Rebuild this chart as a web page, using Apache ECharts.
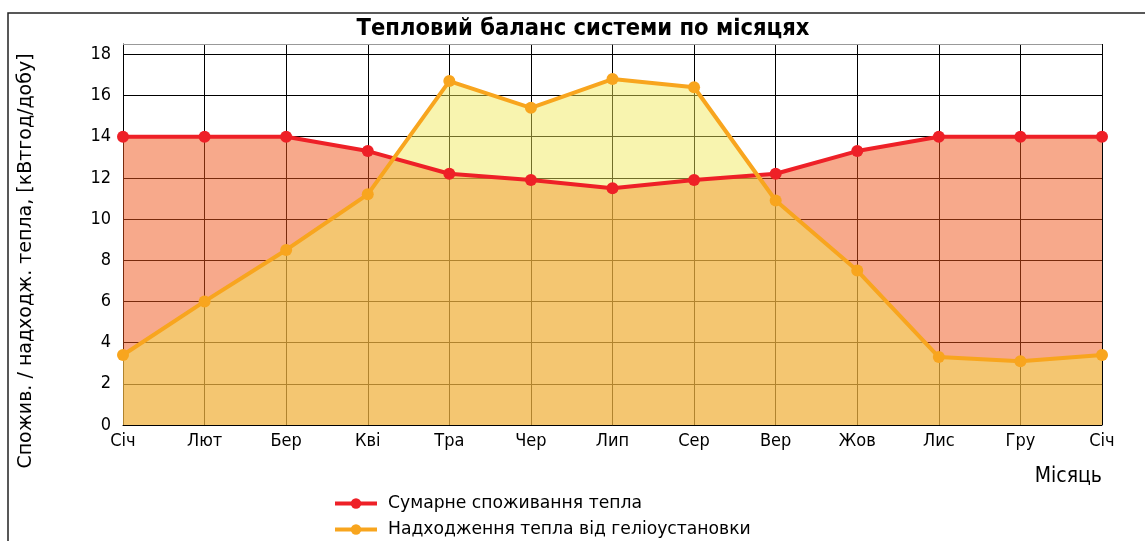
<!DOCTYPE html>
<html>
<head>
<meta charset="utf-8">
<script src="https://cdn.jsdelivr.net/npm/echarts@6/dist/echarts.min.js"></script>
<style>
html,body{margin:0;padding:0;background:#fff;}
#chart{width:1145px;height:541px;}
</style>
</head>
<body>
<div id="chart"></div>
<script>
const months = ['Січ','Лют','Бер','Кві','Тра','Чер','Лип','Сер','Вер','Жов','Лис','Гру','Січ'];
const consumption = [14, 14, 14, 13.3, 12.2, 11.9, 11.5, 11.9, 12.2, 13.3, 14, 14, 14];
const supply = [3.4, 6.0, 8.5, 11.2, 16.7, 15.4, 16.8, 16.4, 10.9, 7.5, 3.3, 3.1, 3.4];
const yTicks = [0, 2, 4, 6, 8, 10, 12, 14, 16, 18];

const titleText = 'Тепловий баланс системи по місяцях';
const yName = 'Спожив. / надходж. тепла, [кВтгод/добу]';
const xName = 'Місяць';
const consName = 'Сумарне споживання тепла';
const supName = 'Надходження тепла від геліоустановки';

const FONT = 'DejaVu Sans';
const CFONT = '"DejaVu Sans Condensed", "DejaVu Sans"';
const chart = echarts.init(document.getElementById('chart'), null, {renderer: 'canvas'});

chart.setOption({
  animation: false,
  backgroundColor: '#fff',
  textStyle: {fontFamily: FONT},
  grid: {left: 123, right: 43, top: 44, bottom: 116, containLabel: false},
  xAxis: {
    type: 'category',
    data: months,
    boundaryGap: false,
    axisLine: {show: true, lineStyle: {color: '#000', width: 1}},
    axisTick: {show: false},
    axisLabel: {color: '#000', fontSize: 18, fontFamily: CFONT, margin: 7, interval: 0},
    splitLine: {show: true, lineStyle: {color: '#000', width: 1}}
  },
  yAxis: {
    type: 'value',
    min: 0,
    max: 18.5,
    interval: 2,
    axisLine: {show: true, lineStyle: {color: '#000', width: 1}},
    axisTick: {show: false},
    axisLabel: {
      color: '#000', fontSize: 18, fontFamily: CFONT, margin: 12,
      formatter: v => (yTicks.indexOf(v) >= 0 ? String(v) : '')
    },
    splitLine: {show: true, lineStyle: {color: '#000', width: 1}}
  },
  legend: {
    orient: 'vertical',
    left: 333,
    top: 495,
    padding: 0,
    itemWidth: 42,
    itemHeight: 13,
    itemGap: 9,
    data: [consName, supName],
    lineStyle: {width: 4},
    textStyle: {color: '#000', fontSize: 17.2, fontFamily: FONT, padding: [0, 0, 0, 6]}
  },
  series: [
    {
      name: 'consArea', type: 'line', data: consumption, z: 1,
      symbol: 'none', lineStyle: {width: 0},
      areaStyle: {color: 'rgb(239,83,23)', opacity: 0.5},
      silent: true
    },
    {
      name: 'supArea', type: 'line', data: supply, z: 2,
      symbol: 'none', lineStyle: {width: 0},
      areaStyle: {color: 'rgb(240,231,85)', opacity: 0.47},
      silent: true
    },
    {
      name: consName, type: 'line', data: consumption, z: 5,
      symbol: 'circle', symbolSize: 12,
      lineStyle: {color: '#EE2027', width: 4},
      itemStyle: {color: '#EE2027'}
    },
    {
      name: supName, type: 'line', data: supply, z: 6,
      symbol: 'circle', symbolSize: 12,
      lineStyle: {color: '#F8A51E', width: 4},
      itemStyle: {color: '#F8A51E'}
    }
  ],
  graphic: [
    {
      type: 'polyline', z: 100,
      shape: {points: [[8, 600], [8, 13], [1200, 13]]},
      style: {stroke: '#222', lineWidth: 1.5, fill: null}
    },
    {
      type: 'line', z: 100,
      shape: {x1: 123, y1: 44.5, x2: 1102, y2: 44.5},
      style: {stroke: '#999', lineWidth: 1}
    },
    {
      type: 'text', z: 100, x: 583, y: 29,
      style: {text: titleText, font: 'bold 23.5px "DejaVu Sans Condensed", "DejaVu Sans"', fill: '#000', align: 'center', verticalAlign: 'middle'}
    },
    {
      type: 'text', z: 100, x: 26, y: 261, rotation: Math.PI / 2,
      style: {text: yName, font: '19px "DejaVu Sans"', fill: '#000', align: 'center', verticalAlign: 'middle'}
    },
    {
      type: 'text', z: 100, x: 1102, y: 477,
      style: {text: xName, font: '21px "DejaVu Sans Condensed", "DejaVu Sans"', fill: '#000', align: 'right', verticalAlign: 'middle'}
    }
  ]
});
</script>
</body>
</html>
